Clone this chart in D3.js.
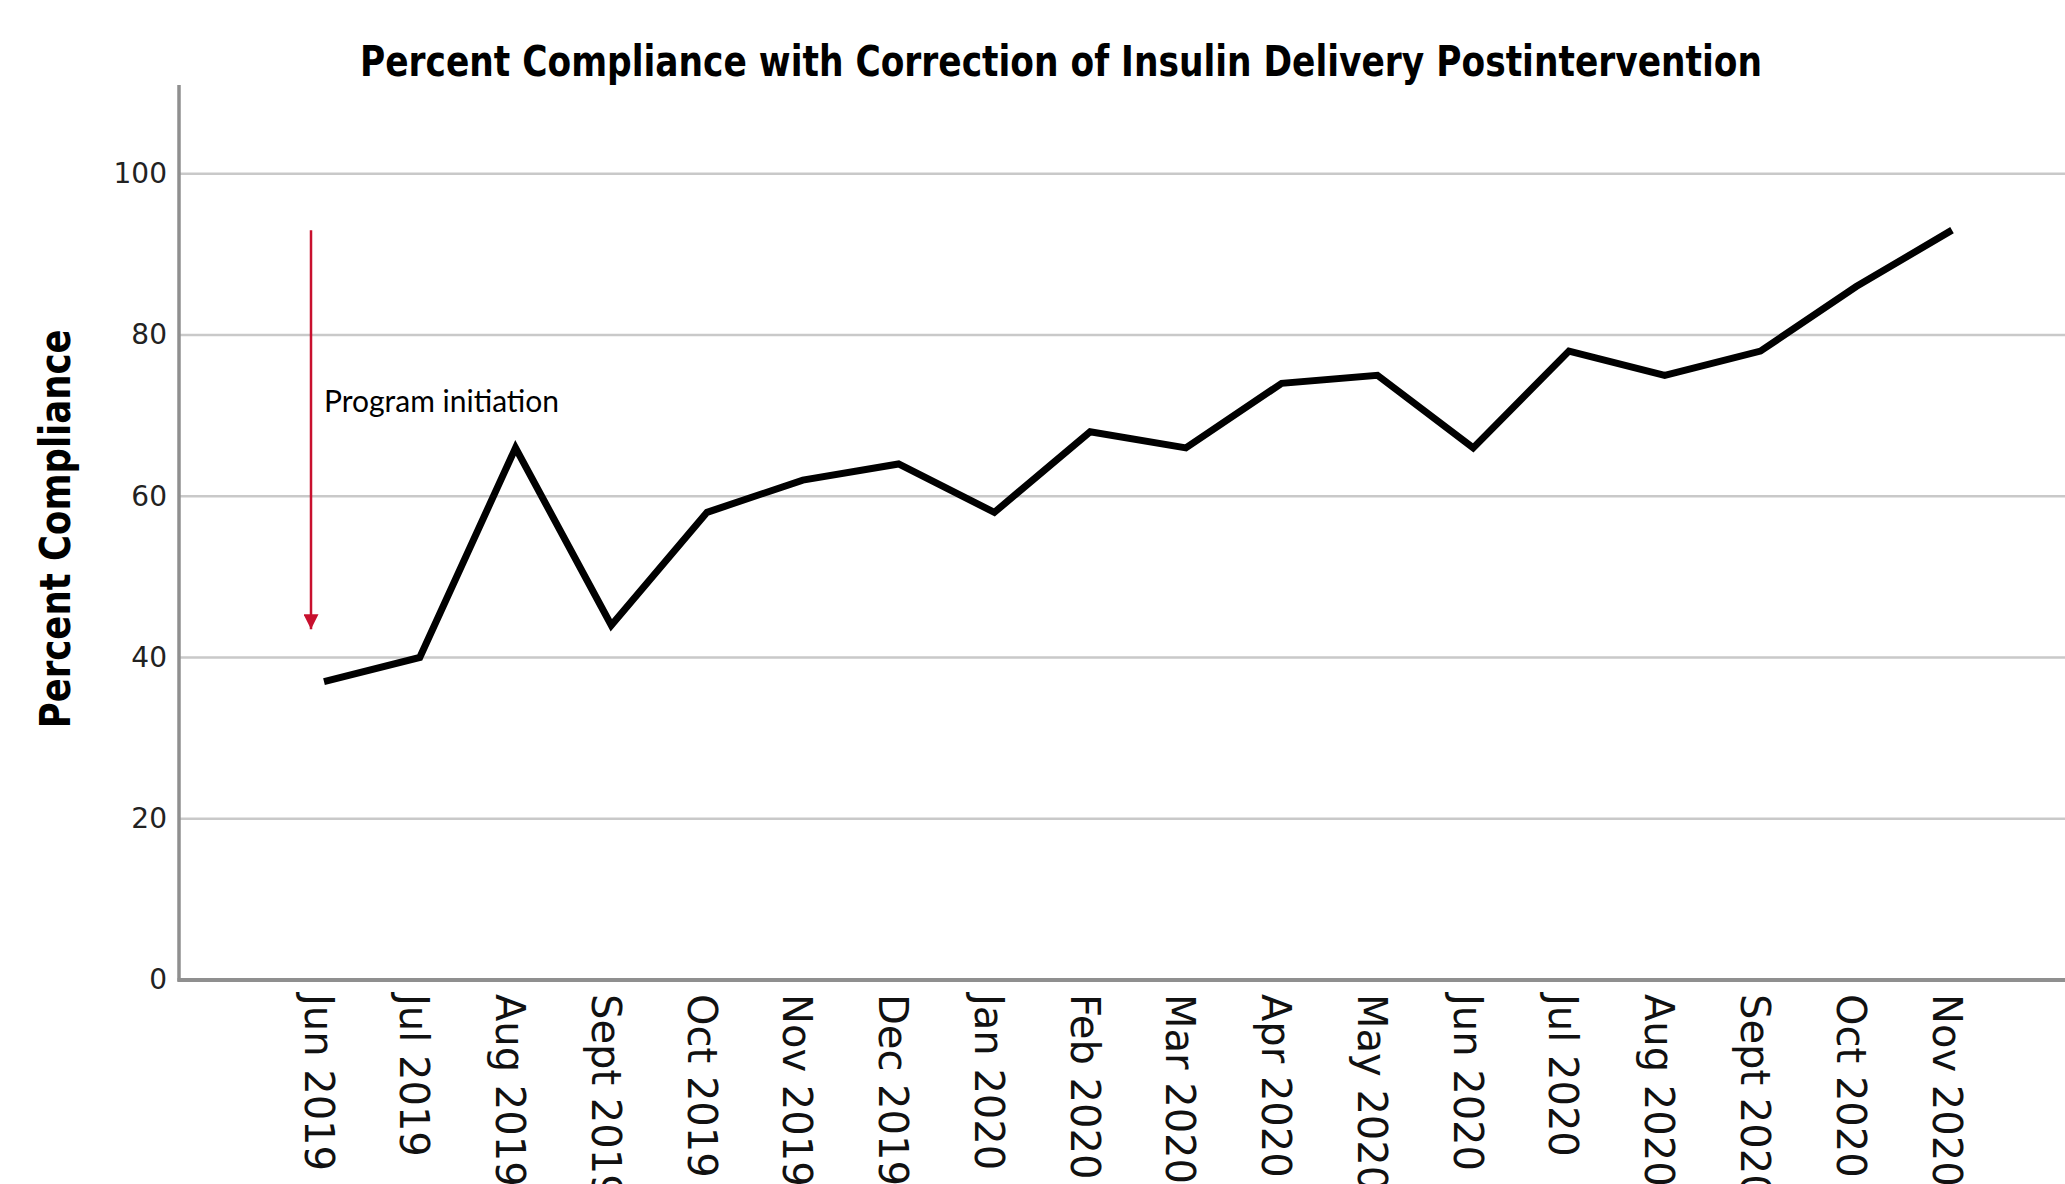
<!DOCTYPE html>
<html>
<head>
<meta charset="utf-8">
<script src="https://cdn.jsdelivr.net/npm/d3@7"></script>
<style>
  html, body { margin: 0; padding: 0; background: #fff; }
  svg { display: block; }
</style>
</head>
<body>
<svg id="chart" width="2065" height="1184"></svg>
<script>
// ---- data ----
const categories = ["Jun 2019","Jul 2019","Aug 2019","Sept 2019","Oct 2019","Nov 2019","Dec 2019",
  "Jan 2020","Feb 2020","Mar 2020","Apr 2020","May 2020","Jun 2020","Jul 2020","Aug 2020",
  "Sept 2020","Oct 2020","Nov 2020"];
const compliance = [37, 40, 66, 44, 58, 62, 64, 58, 68, 66, 74, 75, 66, 78, 75, 78, 86, 93];
const yTicks = [0, 20, 40, 60, 80, 100];
const titleText = "Percent Compliance with Correction of Insulin Delivery Postintervention";
const yTitle = "Percent Compliance";
const annotationText = "Program initiation";
const arrowFrom = 93, arrowTo = 43.5, annotationLabelValue = 70.5;

// ---- layout ----
const W = 2065, H = 1184;
const axisLeft = 179, axisBottom = 980, axisTop = 85;
const svg = d3.select("#chart");

const x = d3.scalePoint().domain(categories).range([324, 1952]);
const y = d3.scaleLinear().domain([0, 111]).range([axisBottom, axisTop]);

const narrow = "'Liberation Sans Narrow', 'DejaVu Sans Condensed', 'Arial Narrow', sans-serif";
const tickFont = "'DejaVu Sans', Verdana, sans-serif";

// gridlines
svg.append("g").selectAll("line").data(yTicks.filter(d => d > 0)).join("line")
  .attr("x1", axisLeft).attr("x2", W)
  .attr("y1", d => y(d)).attr("y2", d => y(d))
  .attr("stroke", "#c9c9c9").attr("stroke-width", 2.5);

// y axis
const yAxis = svg.append("g").attr("transform", `translate(${axisLeft},0)`)
  .call(d3.axisLeft(y).tickValues(yTicks).tickSize(0).tickPadding(12).tickFormat(d3.format("d")));
yAxis.select(".domain").remove();
yAxis.selectAll("text").attr("font-family", tickFont).attr("font-size", 28).attr("fill", "#222");
svg.append("line").attr("x1", axisLeft).attr("x2", axisLeft)
  .attr("y1", axisTop).attr("y2", axisBottom + 1.5)
  .attr("stroke", "#8f8f8f").attr("stroke-width", 3.5);

// x axis
const xAxis = svg.append("g").attr("transform", `translate(0,${axisBottom})`)
  .call(d3.axisBottom(x).tickSize(0).tickPadding(0));
xAxis.select(".domain").remove();
xAxis.selectAll("text")
  .attr("font-family", tickFont).attr("font-size", 40).attr("fill", "#111")
  .attr("text-anchor", "start").attr("dy", null)
  .attr("transform", "translate(-6,14) rotate(90)")
  .attr("dominant-baseline", "central");
svg.append("line").attr("x1", axisLeft - 1.5).attr("x2", W)
  .attr("y1", axisBottom).attr("y2", axisBottom)
  .attr("stroke", "#8f8f8f").attr("stroke-width", 4);

// data line
svg.append("path").datum(compliance)
  .attr("fill", "none").attr("stroke", "#000").attr("stroke-width", 7)
  .attr("stroke-linejoin", "miter")
  .attr("d", d3.line().x((d, i) => x(categories[i])).y(d => y(d)));

// annotation arrow
const ax = x(categories[0]) - 13;
svg.append("defs").append("marker")
  .attr("id", "arrowhead").attr("viewBox", "0 0 10 10")
  .attr("refX", 10).attr("refY", 5)
  .attr("markerUnits", "userSpaceOnUse")
  .attr("markerWidth", 16).attr("markerHeight", 15)
  .attr("orient", "auto")
  .append("path").attr("d", "M0,0 L10,5 L0,10 Z").attr("fill", "#c8102e");
svg.append("line")
  .attr("x1", ax).attr("x2", ax)
  .attr("y1", y(arrowFrom)).attr("y2", y(arrowTo))
  .attr("stroke", "#c8102e").attr("stroke-width", 2.5)
  .attr("marker-end", "url(#arrowhead)");
svg.append("text")
  .attr("x", x(categories[0])).attr("y", y(annotationLabelValue))
  .attr("font-family", "Lato, 'Open Sans', sans-serif").attr("font-size", 30)
  .attr("fill", "#000").text(annotationText);

// titles
svg.append("text")
  .attr("x", 1061).attr("y", 76)
  .attr("text-anchor", "middle")
  .attr("font-family", narrow).attr("font-weight", "bold").attr("font-size", 42)
  .attr("textLength", 1402).attr("lengthAdjust", "spacingAndGlyphs")
  .attr("fill", "#000").text(titleText);
svg.append("text")
  .attr("transform", `translate(70,${(y(0)+y(100))/2 - 48}) rotate(-90)`)
  .attr("text-anchor", "middle")
  .attr("font-family", narrow).attr("font-weight", "bold").attr("font-size", 42)
  .attr("textLength", 399).attr("lengthAdjust", "spacingAndGlyphs")
  .attr("fill", "#000").text(yTitle);
</script>
</body>
</html>
